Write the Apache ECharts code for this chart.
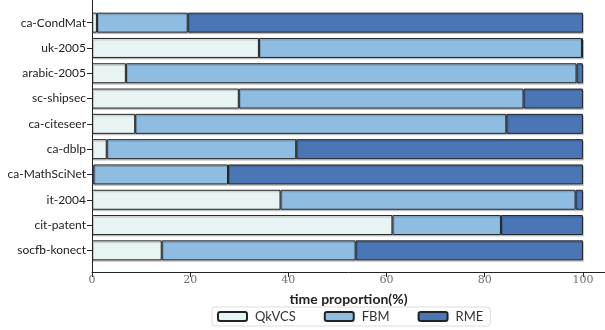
<!DOCTYPE html>
<html>
<head>
<meta charset="utf-8">
<script src="https://cdn.jsdelivr.net/npm/echarts@6/dist/echarts.min.js"></script>
<style>
  html, body { margin: 0; padding: 0; background: #fff; }
  #chart { width: 605px; height: 330px; }
</style>
</head>
<body>
<div id="chart"></div>
<script>
// Graph datasets, top to bottom
const categories = ['ca-CondMat', 'uk-2005', 'arabic-2005', 'sc-shipsec', 'ca-citeseer',
  'ca-dblp', 'ca-MathSciNet', 'it-2004', 'cit-patent', 'socfb-konect'];

// Share of total running time (%) spent in each phase
const qkvcs = [1.0, 34.0, 6.9, 29.9, 8.8, 3.0, 0.3, 38.4, 61.2, 14.2];
const fbm   = [18.5, 65.8, 91.8, 58.0, 75.6, 38.6, 27.4, 60.1, 22.1, 39.5];
const rme   = [80.5, 0.2, 1.3, 12.1, 15.6, 58.4, 72.3, 1.5, 16.7, 46.3];

const xTicks = [0, 20, 40, 60, 80, 100];
const seriesNames = ['QkVCS', 'FBM', 'RME'];
const colors = ['#e8f3f3', '#8fbde2', '#4a76b5'];

const X_MAX = 104.5;
const chart = echarts.init(document.getElementById('chart'));

const barStyle = (c) => ({
  color: c,
  borderColor: '#222',
  borderWidth: 1,
  shadowColor: 'rgba(0,0,0,0.18)',
  shadowOffsetX: 1,
  shadowOffsetY: 1.5,
  shadowBlur: 0
});

chart.setOption({
  animation: false,
  backgroundColor: '#fff',
  grid: [
    { left: 92, right: 0, top: 10, height: 253 },
    { left: 92, right: 0, top: 0, height: 272 }
  ],
  xAxis: [
    { gridIndex: 0, type: 'value', min: 0, max: X_MAX, show: false },
    {
      gridIndex: 1, type: 'value', min: 0, max: X_MAX,
      axisLine: { show: true, lineStyle: { color: '#222', width: 1 } },
      axisTick: { show: true, length: 5, customValues: xTicks, lineStyle: { color: '#222' } },
      axisLabel: {
        customValues: xTicks, margin: 3,
        fontFamily: 'DejaVu Serif', fontSize: 11, color: '#707070'
      },
      splitLine: { show: false },
      name: 'time proportion(%)',
      nameLocation: 'middle',
      nameGap: 20,
      nameTextStyle: { fontFamily: 'Lato', fontWeight: 'bold', fontSize: 14, color: '#222' }
    }
  ],
  yAxis: [
    {
      gridIndex: 0, type: 'category', data: categories, inverse: true,
      axisLine: { show: false },
      axisTick: { show: true, alignWithLabel: true, length: 5, lineStyle: { color: '#222' } },
      axisLabel: { fontFamily: 'Lato', fontSize: 12, color: '#222', margin: 6 }
    },
    {
      gridIndex: 1, type: 'value',
      axisLine: { show: true, lineStyle: { color: '#222', width: 1 } },
      axisTick: { show: false }, axisLabel: { show: false }, splitLine: { show: false }
    }
  ],
  legend: {
    data: seriesNames,
    left: 212, top: 307,
    itemWidth: 29, itemHeight: 9, itemGap: 28,
    padding: [3, 7, 3, 5],
    borderColor: '#ddd', borderWidth: 1, borderRadius: 3,
    textStyle: { fontFamily: 'Lato', fontSize: 13, color: '#333', padding: [0, 0, 0, 3] }
  },
  series: [qkvcs, fbm, rme].map((vals, i) => ({
    name: seriesNames[i],
    type: 'bar',
    stack: 'total',
    xAxisIndex: 0, yAxisIndex: 0,
    barWidth: 20,
    itemStyle: barStyle(colors[i]),
    data: vals
  }))
});
</script>
</body>
</html>
